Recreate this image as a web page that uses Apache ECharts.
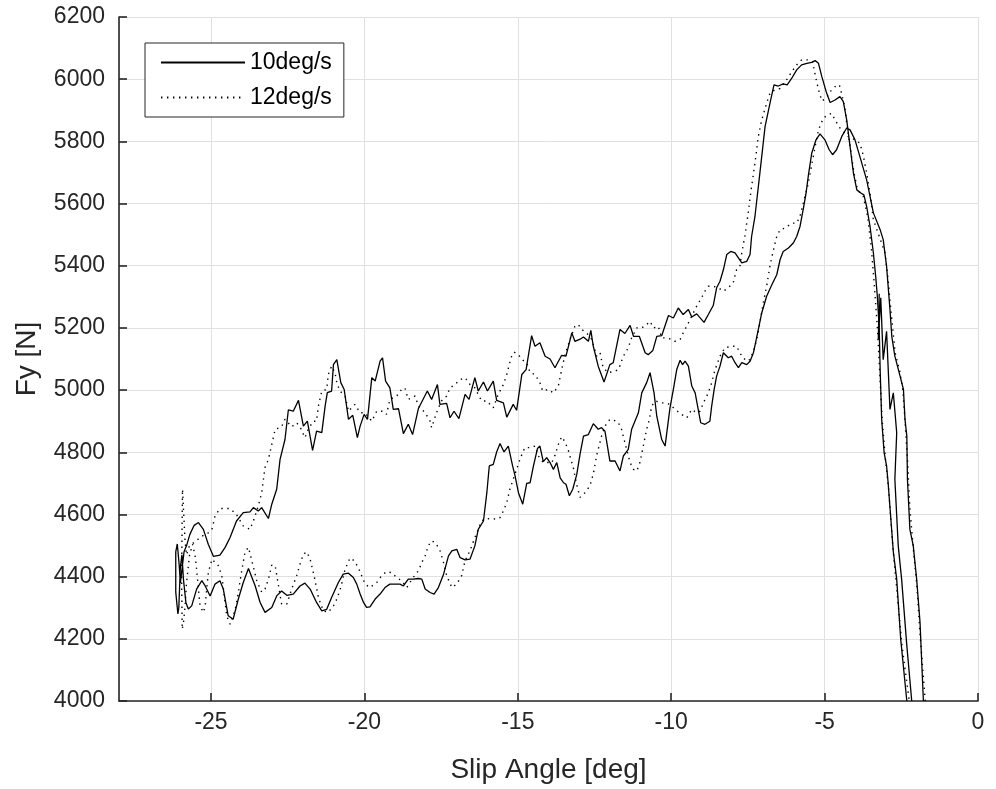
<!DOCTYPE html>
<html>
<head>
<meta charset="utf-8">
<script src="https://cdn.jsdelivr.net/npm/echarts@6/dist/echarts.min.js"></script>
<style>html,body{margin:0;padding:0;background:#fff}#c{width:996px;height:789px}</style>
</head>
<body>
<div id="c"></div>
<script>
// 10deg/s : lower branch rising from the right, sweep to the left, upper branch back to the right
const fy10Main = [
[-1.78,4000],[-1.89,4253],[-2.0,4392],[-2.11,4499],[-2.22,4552],[-2.30,4713],[-2.32,4852],[-2.38,4906],[-2.43,5002],[-2.54,5045],[-2.71,5109],[-2.81,5173],[-2.87,5260],[-2.98,5398],[-3.09,5484],[-3.19,5516],[-3.41,5570],[-3.63,5676],[-3.85,5751],[-4.01,5805],[-4.17,5837],[-4.28,5843],[-4.44,5816],[-4.61,5773],[-4.74,5757],[-4.85,5773],[-4.99,5805],[-5.15,5824],[-5.28,5805],[-5.42,5762],[-5.53,5690],[-5.61,5630],[-5.69,5585],[-5.80,5527],[-5.91,5494],[-6.02,5473],[-6.18,5457],[-6.35,5446],[-6.45,5420],[-6.56,5371],[-6.72,5339],[-6.89,5302],[-7.05,5248],[-7.16,5195],[-7.32,5120],[-7.43,5093],[-7.54,5082],[-7.70,5088],[-7.81,5072],[-7.92,5088],[-8.03,5109],[-8.14,5104],[-8.30,5120],[-8.41,5077],[-8.52,5045],[-8.60,5002],[-8.68,4949],[-8.74,4900],[-8.90,4890],[-9.04,4895],[-9.12,4938],[-9.22,4991],[-9.33,5013],[-9.44,5077],[-9.55,5093],[-9.63,5082],[-9.71,5096],[-9.82,5066],[-9.93,5002],[-10.04,4943],[-10.20,4820],[-10.31,4841],[-10.47,4916],[-10.56,4991],[-10.69,5056],[-10.80,5024],[-10.96,4991],[-11.07,4927],[-11.29,4874],[-11.40,4809],[-11.56,4788],[-11.67,4740],[-11.83,4772],[-12.0,4772],[-12.16,4868],[-12.27,4879],[-12.38,4874],[-12.54,4892],[-12.70,4857],[-12.86,4852],[-12.97,4795],[-13.08,4728],[-13.21,4681],[-13.32,4660],[-13.43,4697],[-13.51,4702],[-13.62,4718],[-13.73,4767],[-13.84,4745],[-13.95,4767],[-14.06,4783],[-14.17,4770],[-14.28,4820],[-14.36,4812],[-14.49,4756],[-14.60,4702],[-14.71,4700],[-14.84,4633],[-14.98,4670],[-15.09,4724],[-15.17,4756],[-15.31,4820],[-15.36,4825],[-15.45,4801],[-15.58,4828],[-15.69,4801],[-15.80,4761],[-15.93,4756],[-16.01,4670],[-16.12,4579],[-16.29,4552],[-16.40,4499],[-16.56,4456],[-16.72,4454],[-16.88,4461],[-16.99,4488],[-17.15,4483],[-17.26,4467],[-17.42,4408],[-17.59,4365],[-17.73,4344],[-17.86,4349],[-18.02,4360],[-18.13,4392],[-18.24,4394],[-18.41,4392],[-18.57,4392],[-18.73,4370],[-18.84,4376],[-19.0,4376],[-19.17,4376],[-19.33,4365],[-19.49,4344],[-19.65,4328],[-19.82,4303],[-19.93,4301],[-20.03,4317],[-20.14,4344],[-20.25,4376],[-20.36,4397],[-20.52,4411],[-20.69,4408],[-20.85,4381],[-21.07,4333],[-21.23,4295],[-21.39,4290],[-21.56,4317],[-21.77,4360],[-21.94,4379],[-22.10,4370],[-22.32,4344],[-22.53,4340],[-22.70,4354],[-22.86,4338],[-23.02,4301],[-23.24,4285],[-23.40,4317],[-23.56,4370],[-23.78,4426],[-23.95,4381],[-24.11,4328],[-24.28,4263],[-24.44,4274],[-24.60,4360],[-24.71,4387],[-24.87,4376],[-25.03,4338],[-25.19,4370],[-25.30,4387],[-25.47,4360],[-25.63,4306],[-25.74,4296],[-25.82,4317],[-25.90,4392],[-25.95,4470],[-26.0,4430],[-26.05,4300],[-26.08,4280],[-26.15,4350],[-26.15,4480],[-26.10,4505],[-26.04,4440],[-26.0,4380],[-25.95,4420],[-25.88,4480],[-25.80,4499],[-25.69,4536],[-25.55,4565],[-25.41,4574],[-25.25,4552],[-25.09,4504],[-24.92,4465],[-24.71,4469],[-24.54,4494],[-24.38,4526],[-24.17,4579],[-23.95,4606],[-23.73,4608],[-23.62,4622],[-23.46,4611],[-23.35,4622],[-23.13,4587],[-23.02,4633],[-22.86,4681],[-22.75,4777],[-22.59,4841],[-22.48,4936],[-22.32,4932],[-22.15,4967],[-21.99,4884],[-21.86,4900],[-21.69,4806],[-21.56,4868],[-21.39,4863],[-21.28,4949],[-21.21,4992],[-21.07,4997],[-21.01,5082],[-20.90,5098],[-20.77,5024],[-20.66,5002],[-20.52,4906],[-20.38,4919],[-20.23,4847],[-20.14,4884],[-20.01,4922],[-19.90,4906],[-19.76,5040],[-19.65,5029],[-19.49,5093],[-19.41,5104],[-19.31,5029],[-19.17,5007],[-19.06,4938],[-18.89,4940],[-18.73,4860],[-18.57,4890],[-18.43,4857],[-18.24,4941],[-17.95,4997],[-17.81,4970],[-17.62,5018],[-17.54,4954],[-17.32,4957],[-17.21,4911],[-17.08,4932],[-16.92,4908],[-16.72,4986],[-16.59,4970],[-16.40,5040],[-16.29,4997],[-16.12,5026],[-15.99,4997],[-15.80,5029],[-15.69,4967],[-15.47,4959],[-15.36,4913],[-15.15,4954],[-15.04,4935],[-14.87,5050],[-14.73,5066],[-14.55,5175],[-14.44,5141],[-14.28,5152],[-14.11,5109],[-13.95,5100],[-13.79,5072],[-13.57,5112],[-13.43,5109],[-13.24,5184],[-13.14,5157],[-12.95,5165],[-12.86,5171],[-12.70,5157],[-12.62,5192],[-12.54,5141],[-12.38,5077],[-12.19,5026],[-12.0,5082],[-11.89,5088],[-11.67,5195],[-11.51,5182],[-11.34,5208],[-11.23,5173],[-11.04,5173],[-10.85,5120],[-10.75,5114],[-10.60,5127],[-10.47,5173],[-10.31,5175],[-10.09,5240],[-9.93,5232],[-9.77,5264],[-9.61,5243],[-9.44,5259],[-9.33,5235],[-9.17,5245],[-8.93,5218],[-8.79,5243],[-8.63,5272],[-8.52,5329],[-8.41,5350],[-8.30,5387],[-8.19,5436],[-8.06,5446],[-7.92,5441],[-7.70,5409],[-7.54,5414],[-7.43,5436],[-7.38,5494],[-7.27,5559],[-7.11,5698],[-6.94,5848],[-6.78,5923],[-6.65,5982],[-6.51,5978],[-6.35,5985],[-6.22,5982],[-6.07,6003],[-5.91,6030],[-5.75,6046],[-5.58,6051],[-5.42,6054],[-5.31,6060],[-5.20,6051],[-5.09,6008],[-4.95,5960],[-4.82,5925],[-4.66,5933],[-4.50,5944],[-4.39,5928],[-4.28,5869],[-4.17,5783],[-4.06,5698],[-3.95,5644],[-3.82,5634],[-3.72,5628],[-3.63,5591],[-3.52,5527],[-3.41,5441],[-3.33,5360],[-3.28,5300],[-3.22,5200],[-3.19,5066],[-3.14,4906],[-3.06,4799],[-2.98,4756],[-2.93,4702],[-2.76,4480],[-2.65,4392],[-2.52,4199],[-2.32,4000]
];
// 10deg/s : start of the next sweep (ends in the glitch near -3.2 deg)
const fy10Tail = [
[-2.16,4000],[-2.32,4178],[-2.49,4392],[-2.60,4499],[-2.71,4713],[-2.65,4863],[-2.76,4991],[-2.87,4938],[-2.98,5189],[-3.09,5098],[-3.17,5297],[-3.25,5163],[-3.22,5310]
];
// 12deg/s : same loop
const fy12Main = [
[-1.72,4000],[-1.90,4230],[-2.0,4380],[-2.12,4500],[-2.22,4620],[-2.30,4780],[-2.38,4900],[-2.45,5000],[-2.55,5060],[-2.70,5120],[-2.81,5227],[-2.93,5355],[-3.03,5441],[-3.41,5548],[-3.52,5634],[-3.63,5698],[-3.74,5755],[-3.85,5794],[-4.01,5805],[-4.23,5816],[-4.50,5843],[-4.66,5869],[-4.77,5890],[-4.88,5886],[-5.04,5875],[-5.20,5837],[-5.31,5783],[-5.42,5725],[-5.53,5666],[-5.64,5623],[-5.80,5560],[-5.91,5537],[-6.07,5537],[-6.29,5521],[-6.45,5516],[-6.56,5494],[-6.67,5450],[-6.78,5400],[-6.89,5334],[-7.0,5280],[-7.11,5216],[-7.21,5163],[-7.32,5125],[-7.43,5098],[-7.54,5093],[-7.70,5109],[-7.87,5141],[-8.03,5141],[-8.25,5136],[-8.41,5109],[-8.57,5066],[-8.68,5024],[-8.79,4991],[-8.95,4959],[-9.06,4932],[-9.17,4927],[-9.33,4938],[-9.49,4911],[-9.66,4922],[-9.88,4938],[-10.04,4954],[-10.20,4959],[-10.36,4959],[-10.50,4965],[-10.64,4949],[-10.71,4906],[-10.80,4874],[-10.91,4820],[-11.02,4767],[-11.12,4740],[-11.23,4745],[-11.34,4767],[-11.51,4831],[-11.62,4874],[-11.73,4897],[-11.89,4904],[-12.0,4906],[-12.16,4884],[-12.27,4852],[-12.43,4790],[-12.54,4730],[-12.65,4692],[-12.81,4670],[-12.97,4655],[-13.08,4695],[-13.19,4750],[-13.35,4805],[-13.46,4833],[-13.57,4850],[-13.68,4825],[-13.79,4790],[-13.90,4765],[-14.01,4767],[-14.17,4767],[-14.33,4788],[-14.44,4820],[-14.60,4815],[-14.77,4815],[-14.91,4783],[-15.04,4745],[-15.15,4713],[-15.26,4681],[-15.36,4638],[-15.47,4611],[-15.58,4590],[-15.69,4585],[-15.91,4587],[-16.07,4585],[-16.18,4579],[-16.29,4552],[-16.40,4526],[-16.56,4483],[-16.72,4451],[-16.83,4403],[-16.99,4376],[-17.15,4365],[-17.32,4403],[-17.42,4445],[-17.55,4488],[-17.70,4510],[-17.81,4515],[-17.92,4499],[-18.02,4467],[-18.13,4445],[-18.24,4419],[-18.41,4397],[-18.62,4365],[-18.79,4387],[-18.95,4397],[-19.11,4413],[-19.28,4416],[-19.44,4403],[-19.60,4381],[-19.82,4365],[-19.98,4376],[-20.09,4403],[-20.20,4429],[-20.34,4452],[-20.47,4460],[-20.63,4424],[-20.77,4365],[-20.90,4328],[-21.01,4306],[-21.18,4285],[-21.34,4290],[-21.50,4333],[-21.64,4403],[-21.77,4456],[-21.88,4480],[-21.99,4472],[-22.10,4440],[-22.21,4403],[-22.37,4360],[-22.53,4312],[-22.70,4312],[-22.91,4435],[-23.02,4437],[-23.13,4392],[-23.24,4360],[-23.35,4350],[-23.51,4387],[-23.67,4451],[-23.78,4494],[-23.89,4480],[-24.0,4419],[-24.11,4349],[-24.22,4290],[-24.38,4247],[-24.49,4274],[-24.58,4349],[-24.65,4403],[-24.76,4435],[-24.97,4456],[-25.09,4413],[-25.14,4360],[-25.19,4306],[-25.25,4285],[-25.36,4306],[-25.41,4360],[-25.47,4424],[-25.52,4467],[-25.60,4504],[-25.70,4470],[-25.80,4380],[-25.85,4300],[-25.90,4250],[-25.94,4231],[-25.96,4400],[-25.94,4600],[-25.93,4681],[-25.90,4620],[-25.85,4520],[-25.80,4470],[-25.70,4500],[-25.55,4510],[-25.30,4530],[-25.10,4540],[-24.97,4552],[-24.87,4595],[-24.71,4619],[-24.38,4619],[-24.18,4601],[-23.95,4563],[-23.73,4552],[-23.62,4579],[-23.46,4627],[-23.35,4670],[-23.24,4751],[-23.13,4777],[-23.02,4825],[-22.91,4874],[-22.70,4882],[-22.59,4906],[-22.37,4882],[-22.21,4895],[-22.10,4882],[-21.94,4847],[-21.83,4874],[-21.67,4900],[-21.56,4900],[-21.50,4949],[-21.39,4997],[-21.23,5002],[-21.18,5050],[-21.07,5077],[-20.96,5056],[-20.90,5024],[-20.80,4997],[-20.63,4981],[-20.52,4932],[-20.42,4943],[-20.31,4954],[-20.14,4927],[-19.98,4927],[-19.76,4900],[-19.60,4932],[-19.38,4932],[-19.28,4922],[-19.17,4970],[-18.95,4981],[-18.79,5002],[-18.68,5007],[-18.57,4970],[-18.35,4981],[-18.24,4949],[-18.02,4927],[-17.86,4900],[-17.81,4879],[-17.65,4927],[-17.49,4965],[-17.32,4981],[-17.21,5007],[-17.05,5018],[-16.88,5034],[-16.72,5040],[-16.56,5018],[-16.40,5007],[-16.29,4986],[-16.18,4965],[-16.01,4965],[-15.80,4943],[-15.64,4986],[-15.47,5018],[-15.36,5050],[-15.28,5082],[-15.20,5109],[-15.12,5122],[-14.98,5114],[-14.87,5098],[-14.71,5088],[-14.60,5056],[-14.44,5050],[-14.28,5024],[-14.19,4997],[-14.01,5002],[-13.84,4991],[-13.68,5013],[-13.57,5066],[-13.46,5114],[-13.30,5163],[-13.14,5205],[-13.03,5211],[-12.92,5195],[-12.76,5184],[-12.59,5163],[-12.43,5109],[-12.32,5120],[-12.22,5072],[-12.05,5056],[-11.83,5061],[-11.72,5066],[-11.56,5109],[-11.40,5136],[-11.29,5168],[-11.12,5200],[-10.96,5200],[-10.80,5211],[-10.69,5221],[-10.58,5200],[-10.42,5205],[-10.31,5168],[-10.15,5168],[-9.98,5163],[-9.88,5157],[-9.71,5163],[-9.61,5184],[-9.44,5216],[-9.28,5248],[-9.17,5270],[-9.01,5297],[-8.90,5318],[-8.79,5334],[-8.63,5334],[-8.46,5329],[-8.30,5318],[-8.14,5329],[-7.98,5345],[-7.87,5387],[-7.76,5398],[-7.70,5441],[-7.59,5500],[-7.49,5570],[-7.38,5655],[-7.27,5730],[-7.16,5816],[-7.05,5869],[-6.89,5923],[-6.78,5955],[-6.62,5966],[-6.45,5970],[-6.24,5998],[-6.07,6024],[-5.91,6046],[-5.75,6062],[-5.53,6062],[-5.39,6056],[-5.31,6015],[-5.20,5966],[-5.09,5930],[-4.95,5939],[-4.82,5960],[-4.66,5976],[-4.52,5982],[-4.44,5952],[-4.34,5908],[-4.28,5859],[-4.20,5805],[-4.12,5751],[-4.04,5698],[-3.95,5655],[-3.85,5634],[-3.74,5623],[-3.60,5560],[-3.48,5460],[-3.38,5340],[-3.28,5200],[-3.20,5050],[-3.12,4900],[-3.02,4780],[-2.92,4690],[-2.78,4500],[-2.62,4330],[-2.48,4180],[-2.24,4000]
];
const xTicks = [-25, -20, -15, -10, -5, 0];
const yMin = 4000, yMax = 6200, yStep = 200;
const names = ['10deg/s', '12deg/s'];

const FONT = '"Liberation Sans", Arial, Helvetica, sans-serif';
const AX = '#262626';
const chart = echarts.init(document.getElementById('c'), null, {renderer: 'canvas'});
const solid = {color: '#000', width: 1.3, type: 'solid'};
const dotted = {color: '#000', width: 1.4, type: [1.4, 4.6]};
chart.setOption({
  animation: false,
  backgroundColor: '#fff',
  grid: {left: 119, right: 18, top: 17, bottom: 87, containLabel: false},
  legend: {
    data: names,
    orient: 'vertical',
    left: 145, top: 43,
    itemWidth: 84, itemHeight: 12, itemGap: 12,
    padding: [8, 12, 8, 15],
    borderColor: AX, borderWidth: 1, backgroundColor: '#fff',
    itemStyle: {opacity: 0},
    textStyle: {fontFamily: FONT, fontSize: 23, color: '#000'}
  },
  xAxis: {
    type: 'value', min: -28, max: 0, splitNumber: 6,
    axisLine: {show: true, lineStyle: {color: AX, width: 1.6}},
    axisTick: {show: true, inside: true, length: 8, lineStyle: {color: AX, width: 1.6}},
    axisLabel: {showMinLabel: false, fontFamily: FONT, fontSize: 23, color: AX, margin: 10,
      formatter: v => xTicks.includes(v) ? String(v) : ''},
    splitLine: {show: true, lineStyle: {color: '#e0e0e0', width: 1}},
    name: 'Slip Angle [deg]', nameLocation: 'middle', nameGap: 55,
    nameTextStyle: {fontFamily: FONT, fontSize: 28, color: AX}
  },
  yAxis: {
    type: 'value', min: yMin, max: yMax, interval: yStep,
    axisLine: {show: true, onZero: false, lineStyle: {color: AX, width: 1.6}},
    axisTick: {show: true, inside: true, length: 8, lineStyle: {color: AX, width: 1.6}},
    axisLabel: {fontFamily: FONT, fontSize: 23, color: AX, margin: 14, formatter: v => String(v)},
    splitLine: {show: true, lineStyle: {color: '#e0e0e0', width: 1}},
    name: 'Fy [N]', nameLocation: 'middle', nameGap: 78,
    nameTextStyle: {fontFamily: FONT, fontSize: 28, color: AX}
  },
  series: [
    {name: names[0], type: 'line', data: fy10Main, symbol: 'none', lineStyle: solid, itemStyle: {color: '#000'}, clip: true, z: 3},
    {name: names[0], type: 'line', data: fy10Tail, symbol: 'none', lineStyle: solid, itemStyle: {color: '#000'}, clip: true, z: 3},
    {name: names[1], type: 'line', data: fy12Main, symbol: 'none', lineStyle: dotted, itemStyle: {color: '#000'}, clip: true, z: 2}
  ]
});
</script>
</body>
</html>
